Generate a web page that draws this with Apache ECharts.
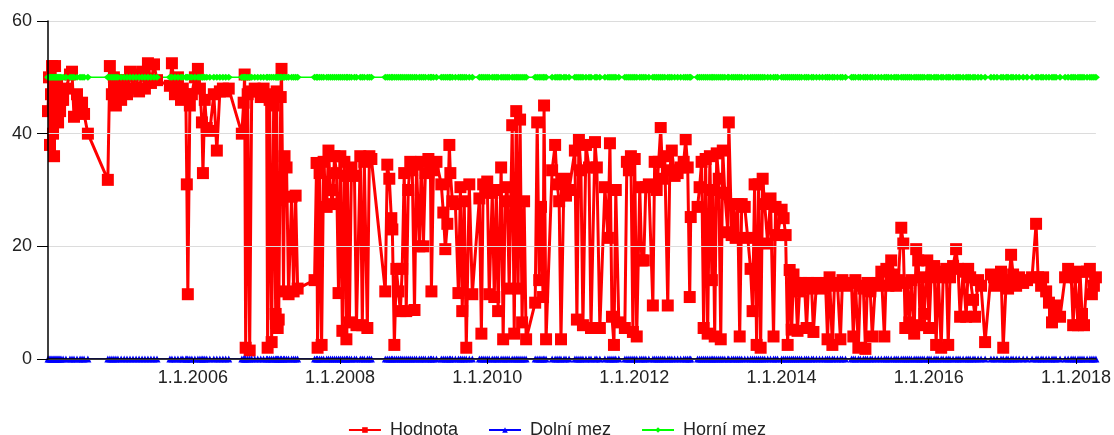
<!DOCTYPE html>
<html>
<head>
<meta charset="utf-8">
<title>Hodnota</title>
<script src="https://cdn.jsdelivr.net/npm/echarts@6/dist/echarts.min.js"></script>
<style>
    html, body { margin: 0; padding: 0; background: #fff; }
    #lineChart { width: 1114px; height: 435px; }
</style>
</head>
<body>
<div id="lineChart"></div>
<script>
"use strict";

var sampleDates = [
    "2004-01-13", "2004-01-18", "2004-01-23", "2004-01-28", "2004-02-02", "2004-02-07", "2004-02-12", "2004-02-17",
    "2004-02-22", "2004-02-27", "2004-03-03", "2004-03-08", "2004-03-13", "2004-03-18", "2004-03-28", "2004-04-11",
    "2004-05-01", "2004-05-11", "2004-05-21", "2004-06-05", "2004-06-20", "2004-06-30", "2004-07-10", "2004-07-29",
    "2004-11-05", "2004-11-15", "2004-11-25", "2004-12-05", "2004-12-15", "2004-12-25",
    "2005-01-10", "2005-01-25", "2005-02-08", "2005-02-23", "2005-03-10", "2005-03-25", "2005-04-09", "2005-04-24",
    "2005-05-08", "2005-05-23", "2005-06-07", "2005-06-22", "2005-07-07", "2005-09-09", "2005-09-19", "2005-10-04",
    "2005-10-19", "2005-11-03", "2005-11-12", "2005-11-27", "2005-12-02", "2005-12-07", "2005-12-17", "2005-12-27",
    "2006-01-11", "2006-01-26", "2006-02-05", "2006-02-15", "2006-02-20", "2006-03-01", "2006-03-11", "2006-03-26",
    "2006-04-15", "2006-04-30", "2006-05-15", "2006-05-30", "2006-06-13", "2006-06-28", "2006-09-01", "2006-09-10",
    "2006-09-15", "2006-09-20", "2006-09-30", "2006-10-10", "2006-10-20", "2006-11-04", "2006-11-19", "2006-12-04",
    "2006-12-18",
    "2007-01-02", "2007-01-07", "2007-01-17", "2007-01-27", "2007-02-06", "2007-02-16", "2007-02-21", "2007-02-26",
    "2007-03-03", "2007-03-13", "2007-03-17", "2007-03-27", "2007-04-01", "2007-04-11", "2007-04-21", "2007-05-06",
    "2007-05-16", "2007-05-26", "2007-06-05", "2007-08-28", "2007-09-07", "2007-09-12", "2007-09-22", "2007-10-02",
    "2007-10-12", "2007-10-27", "2007-11-05", "2007-11-15", "2007-11-25", "2007-12-05", "2007-12-15", "2007-12-25",
    "2008-01-03", "2008-01-13", "2008-01-23", "2008-02-02", "2008-02-07", "2008-02-17", "2008-02-27", "2008-03-13",
    "2008-03-23", "2008-04-11", "2008-04-21", "2008-05-01", "2008-05-16", "2008-05-26", "2008-06-05", "2008-08-13",
    "2008-08-23", "2008-09-02", "2008-09-12", "2008-09-17", "2008-09-27", "2008-10-07", "2008-10-17", "2008-10-27",
    "2008-11-05", "2008-11-15", "2008-11-25", "2008-12-05", "2008-12-15", "2008-12-25",
    "2009-01-05", "2009-01-15", "2009-01-29", "2009-02-08", "2009-02-18", "2009-02-28", "2009-03-15", "2009-03-25",
    "2009-03-30", "2009-04-09", "2009-04-24", "2009-05-18", "2009-05-28", "2009-06-07", "2009-06-17", "2009-06-27",
    "2009-07-02", "2009-07-12", "2009-07-27", "2009-08-11", "2009-08-21", "2009-08-30", "2009-09-09", "2009-09-19",
    "2009-10-04", "2009-10-19", "2009-11-23", "2009-12-03", "2009-12-12", "2009-12-22",
    "2010-01-01", "2010-01-11", "2010-01-26", "2010-02-05", "2010-02-15", "2010-02-24", "2010-03-11", "2010-03-21",
    "2010-03-31", "2010-04-10", "2010-04-20", "2010-05-05", "2010-05-15", "2010-05-25", "2010-06-03", "2010-06-13",
    "2010-06-23", "2010-07-03", "2010-07-13", "2010-08-27", "2010-09-06", "2010-09-16", "2010-09-25", "2010-10-05",
    "2010-10-10", "2010-10-20", "2010-11-19", "2010-12-04", "2010-12-14", "2010-12-24",
    "2011-01-02", "2011-01-17", "2011-01-27", "2011-02-11", "2011-03-12", "2011-03-22", "2011-04-01", "2011-04-11",
    "2011-04-21", "2011-05-06", "2011-05-21", "2011-05-31", "2011-06-20", "2011-06-29", "2011-07-14", "2011-08-08",
    "2011-08-23", "2011-09-02", "2011-09-12", "2011-09-22", "2011-10-01", "2011-10-16", "2011-11-15", "2011-11-25",
    "2011-12-05", "2011-12-15", "2011-12-25",
    "2012-01-03", "2012-01-13", "2012-01-28", "2012-02-07", "2012-02-17", "2012-02-27", "2012-03-13", "2012-04-02",
    "2012-04-11", "2012-04-21", "2012-05-01", "2012-05-11", "2012-05-21", "2012-05-31", "2012-06-15", "2012-06-25",
    "2012-07-05", "2012-07-19", "2012-08-03", "2012-08-18", "2012-09-02", "2012-09-12", "2012-09-22", "2012-10-02",
    "2012-10-07", "2012-11-10", "2012-11-20", "2012-11-30", "2012-12-10", "2012-12-20", "2012-12-30",
    "2013-01-10", "2013-01-20", "2013-01-25", "2013-02-03", "2013-02-13", "2013-02-23", "2013-03-05", "2013-03-15",
    "2013-03-25", "2013-04-09", "2013-04-14", "2013-04-28", "2013-05-08", "2013-05-18", "2013-05-28", "2013-06-07",
    "2013-06-17", "2013-07-02", "2013-07-17", "2013-07-31", "2013-08-10", "2013-08-20", "2013-08-30", "2013-09-09",
    "2013-09-19", "2013-09-29", "2013-10-09", "2013-10-24", "2013-11-07", "2013-11-22", "2013-12-02", "2013-12-12",
    "2014-01-01", "2014-01-11", "2014-01-21", "2014-01-31", "2014-02-10", "2014-02-20", "2014-03-01", "2014-03-11",
    "2014-03-21", "2014-03-31", "2014-04-10", "2014-04-25", "2014-05-05", "2014-05-15", "2014-05-30", "2014-06-08",
    "2014-06-23", "2014-07-08", "2014-07-23", "2014-08-07", "2014-08-17", "2014-08-27", "2014-09-10", "2014-09-20",
    "2014-10-05", "2014-10-20", "2014-10-30", "2014-11-14", "2014-12-14", "2014-12-23",
    "2015-01-02", "2015-01-17", "2015-01-27", "2015-02-11", "2015-02-21", "2015-03-03", "2015-03-17", "2015-03-27",
    "2015-04-11", "2015-04-26", "2015-05-11", "2015-05-26", "2015-06-05", "2015-06-15", "2015-06-29", "2015-07-14",
    "2015-07-24", "2015-08-03", "2015-08-18", "2015-08-28", "2015-09-07", "2015-09-17", "2015-09-27", "2015-10-07",
    "2015-10-21", "2015-10-31", "2015-11-10", "2015-11-20", "2015-11-30", "2015-12-10", "2015-12-25",
    "2016-01-03", "2016-01-13", "2016-01-28", "2016-02-07", "2016-02-17", "2016-03-03", "2016-03-13", "2016-03-28",
    "2016-04-07", "2016-04-16", "2016-05-01", "2016-05-16", "2016-05-26", "2016-06-05", "2016-06-20", "2016-07-05",
    "2016-07-15", "2016-07-25", "2016-08-08", "2016-08-18", "2016-09-02", "2016-09-17", "2016-10-07", "2016-11-05",
    "2016-11-20", "2016-12-05", "2016-12-25",
    "2017-01-05", "2017-01-20", "2017-01-29", "2017-02-13", "2017-02-23", "2017-03-10", "2017-03-25", "2017-04-14",
    "2017-05-03", "2017-05-28", "2017-06-17", "2017-06-27", "2017-07-12", "2017-07-22", "2017-08-06", "2017-08-20",
    "2017-09-04", "2017-09-14", "2017-09-24", "2017-10-14", "2017-11-08", "2017-11-23", "2017-12-08", "2017-12-18",
    "2017-12-28", "2018-01-11", "2018-01-21", "2018-01-31", "2018-02-10", "2018-02-25", "2018-03-11", "2018-03-21",
    "2018-03-31", "2018-04-10"
];

var hodnota = [
    44, 50, 38, 47, 52, 40, 36, 52,
    45, 49, 42, 47, 44, 46, 46, 48,
    50.5, 51, 43, 47, 44, 45.5, 43.5, 40,
    31.8, 52, 47, 50, 45, 48,
    46, 49.5, 47, 51, 48, 50.5, 47.5, 51,
    48, 52.5, 49, 52.3, 49.5, 48.5, 52.5, 47,
    50, 46, 48, 47, 31, 11.5, 45, 47,
    50, 51.5, 48, 42, 33, 46, 41, 40.5,
    47, 37, 47.5, 48, 47.5, 48, 40, 45.5,
    50.5, 2, 47, 1.5, 47.5, 48, 47.5, 46.5,
    48,
    47, 2, 46, 3, 45, 8, 47.5, 5.5,
    7, 46.5, 51.5, 12, 36, 34, 11.5, 28.8,
    12, 29, 12.5, 14, 34.8, 2, 33, 2.5,
    35, 27, 37, 30, 27.5, 36, 33, 11.7,
    36, 5, 35, 3.5, 32.5, 6.5, 34, 32.5,
    6, 36, 6, 35, 5.5, 36, 35.5, 12,
    34.5, 32, 25, 23, 2.5, 16, 12, 8.5,
    16, 33, 8.5, 30, 35, 33.5,
    8.7, 34.5, 20, 35, 20, 33, 35.5, 34,
    12, 33.5, 35, 31, 26, 19.5, 24, 38,
    33, 28, 27.5, 11.7, 30.5, 8.5, 28, 2,
    31, 11.5, 28.5, 4.5, 31, 29.5,
    31.5, 11.5, 29.5, 11, 30, 8.5, 34, 3.5,
    28, 30.5, 12.5, 41.5, 4.5, 44, 12.5, 42.5,
    6.5, 28, 3.5, 10, 42, 14, 27, 11,
    45, 3.5, 33.5, 38, 31, 28,
    3.5, 32, 29, 30, 37, 7, 39, 33.5,
    6, 38, 34, 5.5, 38.5, 34, 5.5, 30.5,
    21.5, 38.3, 7.5, 2.5, 30, 6.5, 5.5, 35,
    33.5, 36, 4.8,
    35.5, 4, 30.5, 17.5, 17.5, 30.5, 31, 9.5,
    35, 30, 35, 41, 32, 36, 9.5, 33.5,
    37, 32.5, 33, 34, 35, 39, 34, 11,
    25.2, 27, 30.5, 35, 5.5, 35.5, 4.5,
    36, 14, 30, 4, 36.5, 32, 3.5, 37,
    29.5, 22.5, 42, 22, 27.5, 21.5, 27.5, 4,
    27.5, 27, 21.5, 16, 8.5, 31, 2.5, 31,
    2, 32, 27.5, 20.5, 28.5, 4, 27, 22,
    26.5, 25, 22, 2.5, 15.8, 5.2, 15, 13.5,
    5, 12, 13.5, 13, 5.5, 13.5, 12.5, 4.8,
    13.5, 13, 12.5, 13.5, 3.5, 14.5, 2.5, 13,
    13.5, 3.5, 14, 13, 13.5, 4,
    14, 2, 13, 12.5, 1.8, 13.5, 12, 4,
    13, 13.5, 15.5, 4, 16, 13, 17.5, 15,
    13, 14, 23.3, 20.5, 5.5, 13.5, 6.5, 14,
    4.5, 19.5, 17.5, 6, 14.5, 8, 17.5,
    5.5, 14.5, 16.5, 2.5, 15.5, 2, 14.5, 16,
    2.5, 14.5, 16.5, 19.5, 16, 7.5, 15.5, 7.5,
    16, 14.5, 10.5, 7.5, 14, 13, 3, 15,
    14.5, 13, 15.5,
    2, 14, 12.5, 18.5, 15, 13, 14.5, 13.5,
    14, 14.5, 24, 14.5, 13, 14.5, 12, 10,
    6.5, 8, 9.5, 7.5, 14.5, 16, 15, 6,
    14.5, 6, 15.5, 8, 6, 15.5, 16, 11.5,
    13, 14.5
];

// limits, same for every sample
var dolniMez = 0;
var horniMez = 50;

// x axis labels on 1.1. of these years
var labelYears = [2006, 2008, 2010, 2012, 2014, 2016, 2018];

function toTime(day) {
    var p = day.split("-");
    return new Date(+p[0], +p[1] - 1, +p[2]).getTime();
}

function $ready(fn) {
    if (document.readyState !== "loading") {
        fn();
    } else {
        document.addEventListener("DOMContentLoaded", fn);
    }
}

$ready(function () {
    function LimitsApp() {
        var chartId = "lineChart";
        var _chart = echarts.init(document.getElementById(chartId));
        var textColor = "#222";
        var fontFamily = "'Liberation Sans', Arial, sans-serif";

        function pairs(values) {
            return sampleDates.map(function (day, i) {
                return [toTime(day), values[i]];
            });
        }

        function constant(value) {
            return sampleDates.map(function (day) {
                return [toTime(day), value];
            });
        }

        this.updateChart = function () {
            var tickValues = labelYears.map(function (year) {
                return new Date(year, 0, 1).getTime();
            });

            var options = {
                animation: false,
                grid: {
                    left: 48,
                    right: 16,
                    top: 21,
                    bottom: 76
                },
                legend: {
                    top: 416,
                    left: "center",
                    itemWidth: 32,
                    itemHeight: 7,
                    itemGap: 30,
                    textStyle: {
                        color: textColor,
                        fontSize: 18,
                        fontFamily: fontFamily,
                        padding: [0, 0, 0, 4]
                    },
                    data: ["Hodnota", "Dolní mez", "Horní mez"]
                },
                xAxis: {
                    type: "value",
                    min: "dataMin",
                    max: "dataMax",
                    z: 5,
                    axisLine: {
                        lineStyle: {color: "#000", width: 1.5}
                    },
                    axisTick: {
                        show: true,
                        length: 5,
                        customValues: tickValues,
                        lineStyle: {color: "#000"}
                    },
                    axisLabel: {
                        customValues: tickValues,
                        color: textColor,
                        fontSize: 18,
                        fontFamily: fontFamily,
                        margin: 10,
                        formatter: function (value) {
                            var d = new Date(value);
                            return d.getDate() + "." + (d.getMonth() + 1) + "." + d.getFullYear();
                        }
                    },
                    splitLine: {show: false}
                },
                yAxis: {
                    type: "value",
                    min: 0,
                    max: 60,
                    interval: 20,
                    z: 5,
                    axisLine: {
                        show: true,
                        lineStyle: {color: "#000", width: 1.5}
                    },
                    axisTick: {
                        show: true,
                        length: 11,
                        lineStyle: {color: "#000"}
                    },
                    axisLabel: {
                        color: textColor,
                        fontSize: 18,
                        fontFamily: fontFamily,
                        margin: 16
                    },
                    splitLine: {
                        lineStyle: {color: "#dcdcdc", width: 1}
                    }
                },
                series: [{
                    name: "Hodnota",
                    type: "line",
                    data: pairs(hodnota),
                    symbol: "rect",
                    symbolSize: 12,
                    showAllSymbol: true,
                    itemStyle: {color: "#ff0000"},
                    lineStyle: {color: "#ff0000", width: 3}
                }, {
                    name: "Dolní mez",
                    type: "line",
                    data: constant(dolniMez),
                    symbol: "triangle",
                    symbolSize: 7,
                    showAllSymbol: true,
                    itemStyle: {color: "#0000ff"},
                    lineStyle: {color: "#0000ff", width: 1.5}
                }, {
                    name: "Horní mez",
                    type: "line",
                    data: constant(horniMez),
                    symbol: "diamond",
                    symbolSize: [8, 7],
                    showAllSymbol: true,
                    itemStyle: {color: "#00ff00"},
                    lineStyle: {color: "#00ff00", width: 1.5}
                }]
            };

            _chart.clear();
            _chart.setOption(options, {notMerge: true});
        };
    }

    var app = new LimitsApp();
    app.updateChart();
});
</script>
</body>
</html>
